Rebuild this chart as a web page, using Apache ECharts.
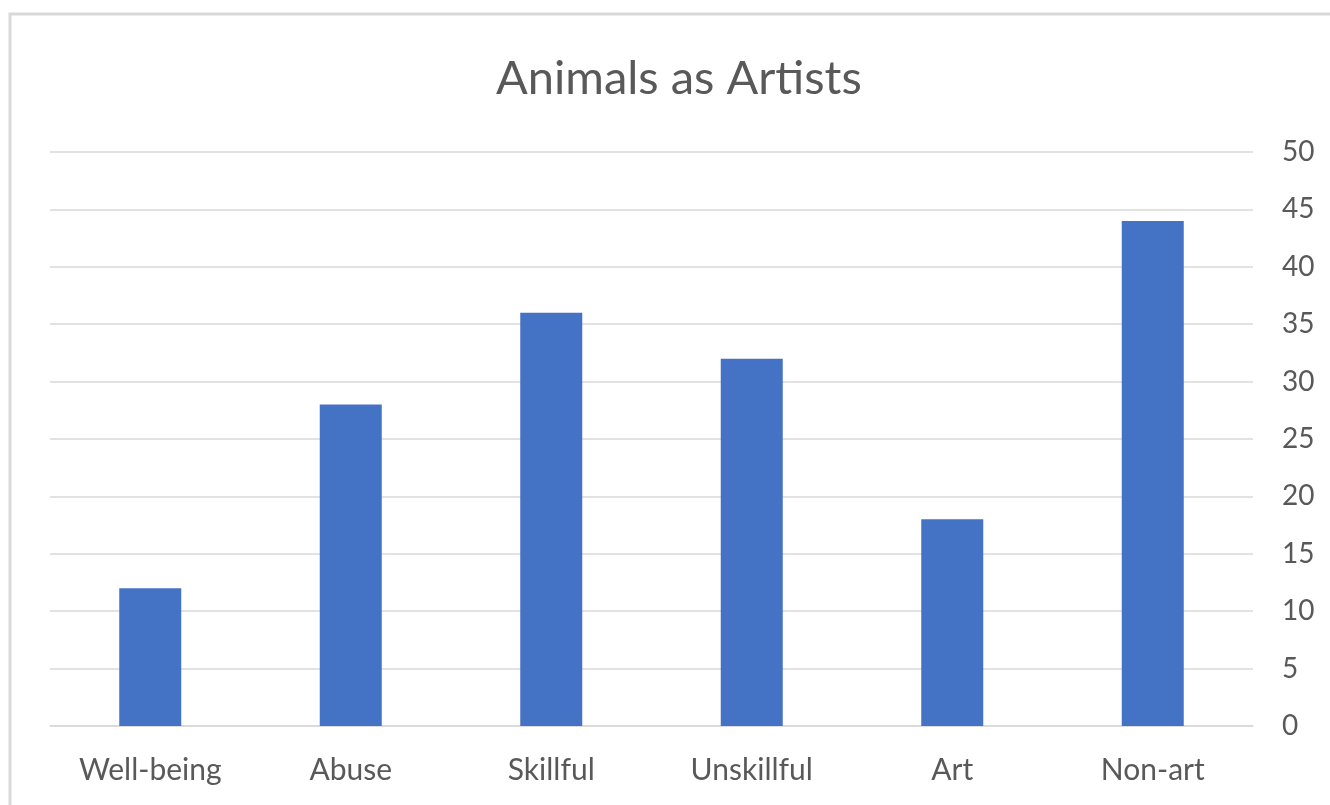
<!DOCTYPE html>
<html>
<head>
<meta charset="utf-8">
<title>Animals as Artists</title>
<script src="https://cdn.jsdelivr.net/npm/echarts@6/dist/echarts.min.js"></script>
<style>
  html, body { margin: 0; padding: 0; background: #fff; }
  #chart { width: 1330px; height: 805px; }
</style>
</head>
<body>
<div id="chart"></div>
<script>
// data
const categories = ['Well-being', 'Abuse', 'Skillful', 'Unskillful', 'Art', 'Non-art']
const counts = [12, 28, 36, 32, 18, 44]

const chart = echarts.init(document.getElementById('chart'))
chart.setOption({
  animation: false,
  textStyle: { fontFamily: 'Lato, "Open Sans", sans-serif' },
  graphic: [{
    type: 'rect',
    shape: { x: 10, y: 14, width: 1340, height: 820 },
    style: { fill: 'none', stroke: '#d9d9d9', lineWidth: 3 },
    silent: true
  }],
  title: {
    text: 'Animals as Artists',
    left: 491,
    top: 50,
    textStyle: { color: '#595959', fontSize: 47, fontWeight: 'normal', fontFamily: 'Lato, "Open Sans", sans-serif' }
  },
  grid: { left: 50, right: 77, top: 152, bottom: 79, containLabel: false },
  xAxis: {
    type: 'category',
    data: categories,
    axisLine: { lineStyle: { color: '#d9d9d9', width: 1.5 } },
    axisTick: { show: false },
    axisLabel: { color: '#595959', fontSize: 30, margin: 29 }
  },
  yAxis: {
    type: 'value',
    position: 'right',
    min: 0,
    max: 50,
    interval: 5,
    axisLine: { show: false },
    axisTick: { show: false },
    axisLabel: { color: '#595959', fontSize: 28, margin: 29, align: 'left' },
    splitLine: { lineStyle: { color: '#d9d9d9', width: 1.5 } }
  },
  series: [{
    type: 'bar',
    data: counts,
    barWidth: 62,
    itemStyle: { color: '#4472c4' }
  }]
})
</script>
</body>
</html>
